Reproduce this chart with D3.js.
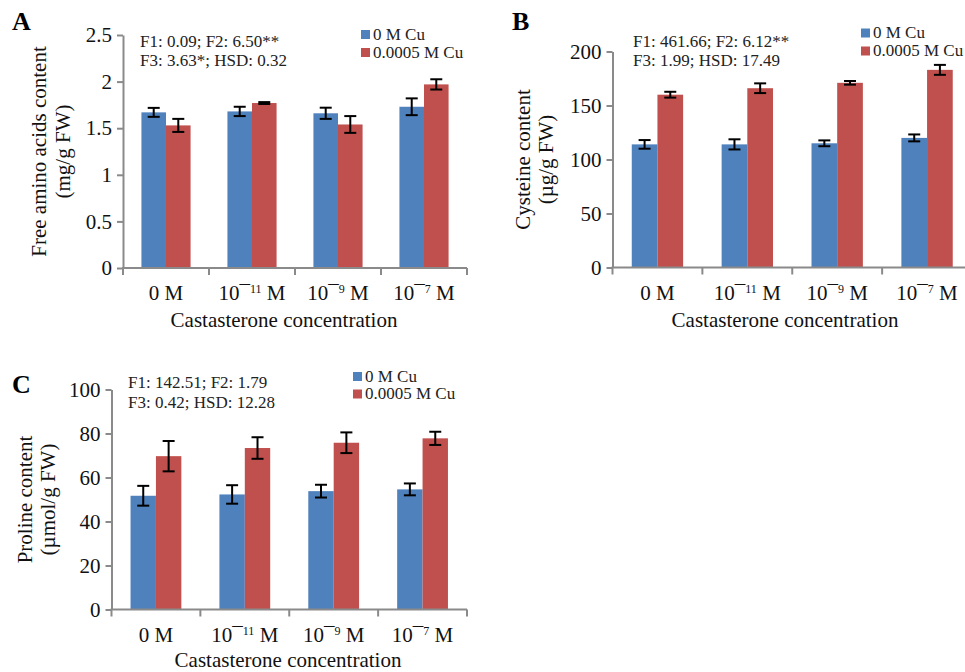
<!DOCTYPE html>
<html>
<head>
<meta charset="utf-8">
<script src="https://cdn.jsdelivr.net/npm/d3@7"></script>
<style>
  html, body { margin: 0; padding: 0; background: #fff; }
  svg { display: block; font-family: "Liberation Serif", "Times New Roman", serif; }
</style>
</head>
<body>
<svg id="chart" width="965" height="672"></svg>
<script>
// ---------------- data ----------------
const categories = ["0 M", "10^11 M", "10^9 M", "10^7 M"]; // exponent shown as ¯NN superscript
const seriesNames = ["0 M Cu", "0.0005 M Cu"];
const seriesColors = ["#4F81BD", "#C0504D"];

// Panel A: free amino acids (mg/g FW)
const aminoControl = [1.67, 1.68, 1.66, 1.73];
const aminoCopper = [1.53, 1.77, 1.54, 1.97];
const aminoControlErr = [0.048, 0.05, 0.06, 0.09];
const aminoCopperErr = [0.07, 0.01, 0.09, 0.055];
const aminoTicks = [0, 0.5, 1, 1.5, 2, 2.5];

// Panel B: cysteine (µg/g FW)
const cysteineControl = [114, 114, 115, 120];
const cysteineCopper = [160, 166, 171, 183];
const cysteineControlErr = [4, 4.7, 2.7, 3.2];
const cysteineCopperErr = [2.7, 4.5, 1.7, 4.6];
const cysteineTicks = [0, 50, 100, 150, 200];

// Panel C: proline (µmol/g FW)
const prolineControl = [51.7, 52.3, 53.8, 54.6];
const prolineCopper = [69.7, 73.4, 75.8, 77.8];
const prolineControlErr = [4.5, 4.2, 2.9, 2.7];
const prolineCopperErr = [6.9, 4.9, 4.7, 3.0];
const prolineTicks = [0, 20, 40, 60, 80, 100];

const xTitle = "Castasterone concentration";

// ---------------- panels ----------------
const panels = [
  {
    letter: "A", letterX: 12, letterY: 30,
    left: 123, right: 467, top: 35, bottom: 268,
    ticks: aminoTicks, values: [aminoControl, aminoCopper], errs: [aminoControlErr, aminoCopperErr],
    yTitle: ["Free amino acids content", "(mg/g FW)"], yTitleX: [46, 70],
    stats: ["F1: 0.09; F2: 6.50**", "F3: 3.63*; HSD: 0.32"], statsX: 140, statsY: [46.5, 66],
    legendX: 361, legendY: [39.5, 57.5],
    tickLabelY: 300, xTitleX: 284, xTitleY: 327
  },
  {
    letter: "B", letterX: 512, letterY: 30,
    left: 612.5, right: 972, top: 51.5, bottom: 267.5,
    ticks: cysteineTicks, values: [cysteineControl, cysteineCopper], errs: [cysteineControlErr, cysteineCopperErr],
    yTitle: ["Cysteine content", "(µg/g FW)"], yTitleX: [530, 553],
    stats: ["F1: 461.66; F2: 6.12**", "F3: 1.99; HSD: 17.49"], statsX: 633, statsY: [46.5, 66],
    legendX: 861, legendY: [38, 56],
    tickLabelY: 300, xTitleX: 785, xTitleY: 327
  },
  {
    letter: "C", letterX: 12, letterY: 393,
    left: 111.5, right: 467, top: 389.5, bottom: 609.5,
    ticks: prolineTicks, values: [prolineControl, prolineCopper], errs: [prolineControlErr, prolineCopperErr],
    yTitle: ["Proline content", "(µmol/g FW)"], yTitleX: [32, 55],
    stats: ["F1: 142.51; F2: 1.79", "F3: 0.42; HSD: 12.28"], statsX: 128, statsY: [388, 408],
    legendX: 353, legendY: [381.5, 399],
    tickLabelY: 642, xTitleX: 288, xTitleY: 666.5
  }
];

const svg = d3.select("#chart");
const axisColor = "#8a8a8a";

panels.forEach(p => {
  const g = svg.append("g");
  const yMax = p.ticks[p.ticks.length - 1];
  const y = d3.scaleLinear().domain([0, yMax]).range([p.bottom, p.top]);
  const x0 = d3.scaleBand().domain(categories).range([p.left, p.right]).paddingInner(0).paddingOuter(0);
  const x1 = d3.scaleBand().domain(seriesNames).range([0, x0.bandwidth()]).paddingInner(0).paddingOuter(0.75);

  // bars
  seriesNames.forEach((s, si) => {
    g.append("g").selectAll("rect").data(categories).join("rect")
      .attr("x", c => x0(c) + x1(s))
      .attr("width", x1.bandwidth())
      .attr("y", (c, i) => y(p.values[si][i]))
      .attr("height", (c, i) => y(0) - y(p.values[si][i]))
      .attr("fill", seriesColors[si]);
  });

  // error bars
  seriesNames.forEach((s, si) => {
    const eg = g.append("g").attr("stroke", "#000").attr("stroke-width", 2).attr("fill", "none");
    categories.forEach((c, i) => {
      const cx = x0(c) + x1(s) + x1.bandwidth() / 2;
      const v = p.values[si][i], e = p.errs[si][i];
      const yt = y(v + e), yb = y(v - e);
      eg.append("line").attr("x1", cx).attr("x2", cx).attr("y1", yt).attr("y2", yb);
      eg.append("line").attr("x1", cx - 6).attr("x2", cx + 6).attr("y1", yt).attr("y2", yt);
      eg.append("line").attr("x1", cx - 6).attr("x2", cx + 6).attr("y1", yb).attr("y2", yb);
    });
  });

  // y axis
  const yAxis = g.append("g")
    .attr("transform", `translate(${p.left},0)`)
    .call(d3.axisLeft(y).tickValues(p.ticks).tickSize(6).tickSizeOuter(0).tickPadding(5)
      .tickFormat(d3.format("")));
  yAxis.select(".domain").attr("stroke", axisColor).attr("stroke-width", 2);
  yAxis.selectAll(".tick line").attr("stroke", axisColor).attr("stroke-width", 2);
  yAxis.selectAll(".tick text").attr("fill", "#111").attr("font-size", 21)
    .attr("font-family", "Liberation Serif, Times New Roman, serif");

  // x axis line and boundary ticks
  g.append("line").attr("x1", p.left - 1).attr("x2", p.right).attr("y1", p.bottom).attr("y2", p.bottom)
    .attr("stroke", axisColor).attr("stroke-width", 2);
  const bounds = categories.map(c => x0(c)).concat([x0.range()[1]]);
  g.append("g").selectAll("line").data(bounds).join("line")
    .attr("x1", d => d).attr("x2", d => d).attr("y1", p.bottom).attr("y2", p.bottom + 7)
    .attr("stroke", axisColor).attr("stroke-width", 2);

  // x tick labels
  categories.forEach(c => {
    const t = g.append("text").attr("x", x0(c) + x0.bandwidth() / 2).attr("y", p.tickLabelY)
      .attr("text-anchor", "middle").attr("font-size", 21).attr("fill", "#111");
    if (c.includes("^")) {
      const base = c.split("^")[0];
      const exp = c.split("^")[1].split(" ")[0];
      t.append("tspan").text(base + "\u00AF");
      t.append("tspan").attr("font-size", 12).attr("dy", -7).text(exp);
      t.append("tspan").attr("dy", 7).text(" M");
    } else {
      t.text(c);
    }
  });

  // x title
  g.append("text").attr("x", p.xTitleX).attr("y", p.xTitleY).attr("text-anchor", "middle")
    .attr("font-size", 21).attr("fill", "#111").text(xTitle);

  // y title (two lines, rotated)
  const cy = (p.top + p.bottom) / 2;
  p.yTitle.forEach((line, li) => {
    g.append("text").attr("transform", `translate(${p.yTitleX[li]},${cy}) rotate(-90)`)
      .attr("text-anchor", "middle").attr("font-size", 21).attr("fill", "#111").text(line);
  });

  // stats annotation
  p.stats.forEach((line, li) => {
    g.append("text").attr("x", p.statsX).attr("y", p.statsY[li]).attr("font-size", 17)
      .attr("fill", "#222").text(line);
  });

  // legend
  seriesNames.forEach((s, si) => {
    g.append("rect").attr("x", p.legendX).attr("y", p.legendY[si] - 9.5).attr("width", 9).attr("height", 9)
      .attr("fill", seriesColors[si]);
    g.append("text").attr("x", p.legendX + 12).attr("y", p.legendY[si]).attr("font-size", 17)
      .attr("fill", "#222").text(s);
  });

  // panel letter
  g.append("text").attr("x", p.letterX).attr("y", p.letterY).attr("font-size", 26)
    .attr("font-weight", "bold").attr("fill", "#000").text(p.letter);
});
</script>
</body>
</html>
